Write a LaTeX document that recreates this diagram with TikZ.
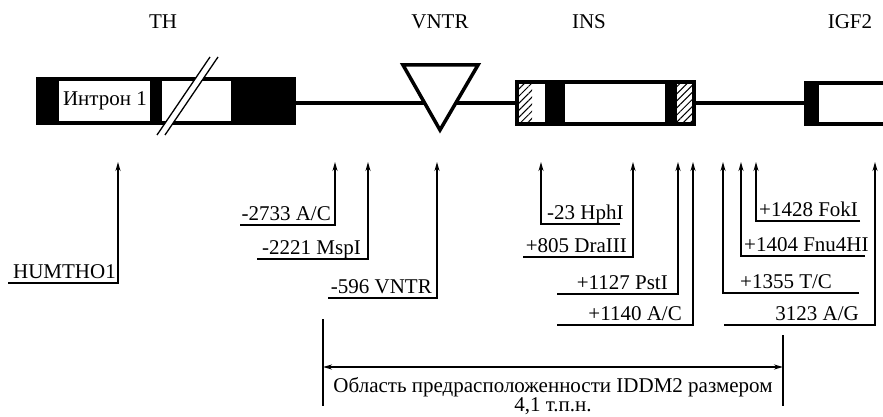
\documentclass[tikz,border=0pt]{standalone}
\usepackage{fontspec}
\setmainfont{Liberation Serif}
\usetikzlibrary{arrows.meta,patterns.meta}

\begin{document}
\begin{tikzpicture}[x=1pt, y=-1pt,
    every node/.style={font=\fontsize{21}{21}\selectfont, inner sep=0pt},
    gene/.style={line width=3.5pt},
    lead/.style={line width=1.5pt, -{Stealth[length=9pt,width=5pt]}},
    hatch/.style={pattern={Lines[angle=45,distance=5pt,line width=1pt]}},
    lblL/.style={anchor=base east},
    lblR/.style={anchor=base west}]

    \useasboundingbox (0,0) rectangle (883,417);

    %% Gene names
    \node (nTH)   at (163,22) {TH};
    \node (nVNTR) at (440,22) {VNTR};
    \node (nINS)  at (589,22) {INS};
    \node (nIGF)  at (850,22) {IGF2};

    %% Backbone line
    \draw[line width=3.5pt] (294,103) -- (517,103);
    \draw[line width=3.5pt] (694,103) -- (806,103);

    %% TH gene (exons black, intron 1 white)
    \fill (38,77) rectangle (59,125);
    \fill (150,77) rectangle (162,125);
    \fill (231,77) rectangle (294,125);
    \draw[gene] (38,79) rectangle (294,123);
    \node (intr) at (105,101) {Интрон 1};

    %% Break mark
    \draw[white, line width=6pt] (161,135) -- (214,57);
    \draw[line width=1.3pt] (157,135) -- (210,57) (165,135) -- (218,57);

    %% VNTR triangle
    \draw[line width=3.5pt, fill=white] (403,65) -- (478,65) -- (440,130) -- cycle;

    %% INS gene
    \fill[hatch] (517,81) rectangle (532,125);
    \fill (545,81) rectangle (565,125);
    \fill (665,81) rectangle (677,125);
    \fill[hatch] (677,81) rectangle (694,125);
    \draw[gene] (517,82) rectangle (694,124);

    %% IGF2 gene (open to the right)
    \fill (806,82) rectangle (819,125);
    \draw[gene] (883,83) -- (806,83) -- (806,124) -- (883,124);

    %% Arrow tips on the map
    \foreach \n/\x in {hum/118, a/335, b/368, c/437, d/541, e/633,
                       f/678, g/693, h/723, i/741, j/756, k/875} {
      \coordinate (t\n) at (\x,162);
    }

    %% Left-hand labels
    \node[lblL] (lhum) at (116,278) {HUMTHO1};
    \coordinate (uhum) at (8,283);
    \draw[lead] (uhum) -| (thum);

    \node[lblL] (la) at (331,220) {-2733 A/C};
    \coordinate (ua) at (240,225);
    \draw[lead] (ua) -| (ta);

    \node[lblL] (lb) at (361,254) {-2221 MspI};
    \coordinate (ub) at (257,259);
    \draw[lead] (ub) -| (tb);

    \node[lblL] (lc) at (432,293) {-596 VNTR};
    \coordinate (uc) at (328,298);
    \draw[lead] (uc) -| (tc);

    \node[lblL] (le) at (627,252) {+805 DraIII};
    \coordinate (ue) at (523,257);
    \draw[lead] (ue) -| (te);

    \node[lblL] (lf) at (668,289) {+1127 PstI};
    \coordinate (uf) at (557,294);
    \draw[lead] (uf) -| (tf);

    \node[lblL] (lg) at (682,320) {+1140 A/C};
    \coordinate (ug) at (557,325);
    \draw[lead] (ug) -| (tg);

    \node[lblL] (lk) at (859,320) {3123 A/G};
    \coordinate (uk) at (724,325);
    \draw[lead] (uk) -| (tk);

    %% Right-hand labels
    \node[lblR] (ld) at (547,219) {-23 HphI};
    \coordinate (ud) at (620,224);
    \draw[lead] (ud) -| (td);

    \node[lblR] (lh) at (740,288) {+1355 T/C};
    \coordinate (uh) at (859,293);
    \draw[lead] (uh) -| (th);

    \node[lblR] (li) at (744,251) {+1404 Fnu4HI};
    \coordinate (ui) at (865,256);
    \draw[lead] (ui) -| (ti);

    \node[lblR] (lj) at (759,216) {+1428 FokI};
    \coordinate (uj) at (860,221);
    \draw[lead] (uj) -| (tj);

    %% IDDM2 region
    \coordinate (bl) at (323,367);
    \coordinate (br) at (783,367);
    \draw[line width=1.5pt] (323,319) -- (323,406);
    \draw[line width=1.5pt] (783,335) -- (783,406);
    \draw[line width=1.5pt, {Stealth[length=9pt,width=5pt]}-{Stealth[length=9pt,width=5pt]}] (bl) -- (br);
    \node[anchor=base] (reg1) at (553,392) {Область предрасположенности IDDM2 размером};
    \node[anchor=base] (reg2) at (553,411) {4,1 т.п.н.};

\end{tikzpicture}
\end{document}
